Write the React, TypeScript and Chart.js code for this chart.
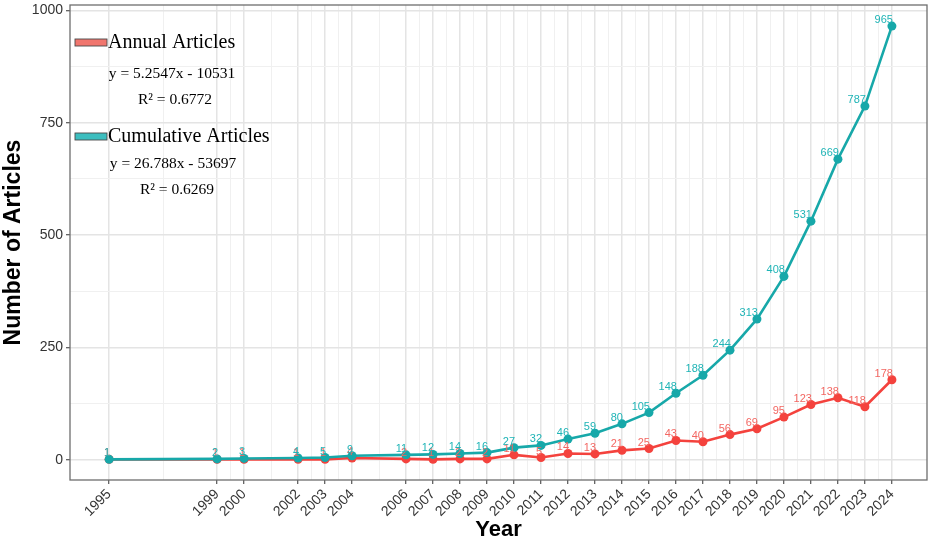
import React, { useEffect, useRef } from 'react';
import { Chart, registerables } from 'chart.js';

Chart.register(...registerables);

const years = [1995, 1999, 2000, 2002, 2003, 2004, 2006, 2007, 2008, 2009, 2010, 2011, 2012, 2013, 2014, 2015, 2016, 2017, 2018, 2019, 2020, 2021, 2022, 2023, 2024];
const annualArticles = [1, 1, 1, 1, 1, 4, 2, 1, 2, 2, 11, 5, 14, 13, 21, 25, 43, 40, 56, 69, 95, 123, 138, 118, 178];
const cumulativeArticles = [1, 2, 3, 4, 5, 9, 11, 12, 14, 16, 27, 32, 46, 59, 80, 105, 148, 188, 244, 313, 408, 531, 669, 787, 965];
const yMajorTicks = [0, 250, 500, 750, 1000];

const annualLabel = 'Annual Articles';
const annualEquation = 'y = 5.2547x - 10531';
const annualR2 = 'R\u00B2 = 0.6772';
const cumulativeLabel = 'Cumulative Articles';
const cumulativeEquation = 'y = 26.788x - 53697';
const cumulativeR2 = 'R\u00B2 = 0.6269';

const xAxisTitle = 'Year';
const yAxisTitle = 'Number of Articles';

const RED_LINE = '#F4423D';
const RED_TEXT = '#F36762';
const TEAL_LINE = '#17A8A9';
const TEAL_TEXT = '#1FB4B6';

function midpoints(arr: number[]): number[] {
  const out: number[] = [];
  for (let i = 0; i < arr.length - 1; i++) out.push((arr[i] + arr[i + 1]) / 2);
  return out;
}

const xMinor = midpoints(years);
const yMinor = midpoints(yMajorTicks);
const xAll = [...years, ...xMinor].sort((a, b) => a - b);
const yAll = [...yMajorTicks, ...yMinor].sort((a, b) => a - b);
const xMajorSet = new Set(years);
const yMajorSet = new Set(yMajorTicks);

const decorPlugin = {
  id: 'decor',
  beforeDraw(chart: any) {
    const ctx = chart.ctx;
    ctx.save();
    ctx.fillStyle = '#ffffff';
    ctx.fillRect(0, 0, chart.width, chart.height);
    ctx.restore();
  },
  afterDatasetsDraw(chart: any) {
    const ctx = chart.ctx;
    ctx.save();
    ctx.font = '11px Arial, "Liberation Sans", sans-serif';
    ctx.textAlign = 'right';
    ctx.textBaseline = 'alphabetic';
    const order = [1, 0];
    order.forEach((di) => {
      const meta = chart.getDatasetMeta(di);
      const ds = chart.data.datasets[di];
      ctx.fillStyle = di === 0 ? TEAL_TEXT : RED_TEXT;
      meta.data.forEach((pt: any, i: number) => {
        ctx.fillText(String(ds.data[i].y), pt.x + 1, pt.y - 3);
      });
    });
    ctx.restore();
  },
  afterDraw(chart: any) {
    const ctx = chart.ctx;
    const a = chart.chartArea;
    ctx.save();
    // panel border
    ctx.strokeStyle = '#6e6e6e';
    ctx.lineWidth = 1.3;
    ctx.strokeRect(a.left, a.top, a.right - a.left, a.bottom - a.top);

    // axis titles
    ctx.fillStyle = '#000000';
    ctx.font = 'bold 22px Arial, "Liberation Sans", sans-serif';
    ctx.textAlign = 'center';
    ctx.textBaseline = 'alphabetic';
    ctx.fillText(xAxisTitle, (a.left + a.right) / 2, 536);

    ctx.save();
    ctx.translate(13.5, (a.top + a.bottom) / 2);
    ctx.rotate(-Math.PI / 2);
    ctx.font = 'bold 23px Arial, "Liberation Sans", sans-serif';
    ctx.textBaseline = 'middle';
    ctx.fillText(yAxisTitle, 0, 0);
    ctx.restore();

    // legend / annotations
    const serif = '"Liberation Serif", "Times New Roman", Times, serif';
    ctx.lineWidth = 0.9;
    ctx.strokeStyle = '#4a4a4a';
    ctx.fillStyle = '#F0766E';
    ctx.fillRect(75, 39, 32, 7);
    ctx.strokeRect(75, 39, 32, 7);
    ctx.fillStyle = '#3CBEBF';
    ctx.fillRect(75, 133, 32, 7);
    ctx.strokeRect(75, 133, 32, 7);

    ctx.fillStyle = '#000000';
    ctx.textAlign = 'left';
    ctx.font = `20px ${serif}`;
    ctx.fillText(annualLabel, 108, 48);
    ctx.fillText(cumulativeLabel, 108, 142);

    ctx.textAlign = 'center';
    ctx.font = `15.5px ${serif}`;
    ctx.fillText(annualEquation, 172, 78);
    ctx.fillText(annualR2, 175, 104);
    ctx.fillText(cumulativeEquation, 173, 168);
    ctx.fillText(cumulativeR2, 177, 194);
    ctx.restore();
  },
};

export default function App() {
  const canvasRef = useRef<HTMLCanvasElement | null>(null);

  useEffect(() => {
    document.body.style.margin = '0';
    const canvas = canvasRef.current;
    if (!canvas) return;

    const chart = new Chart(canvas, {
      type: 'line',
      data: {
        datasets: [
          {
            label: cumulativeLabel,
            data: years.map((yr, i) => ({ x: yr, y: cumulativeArticles[i] })),
            borderColor: TEAL_LINE,
            backgroundColor: TEAL_LINE,
            borderWidth: 2.6,
            pointRadius: 4.5,
            pointBorderWidth: 0,
            pointBackgroundColor: TEAL_LINE,
            tension: 0,
          },
          {
            label: annualLabel,
            data: years.map((yr, i) => ({ x: yr, y: annualArticles[i] })),
            borderColor: RED_LINE,
            backgroundColor: RED_LINE,
            borderWidth: 2.6,
            pointRadius: 4.5,
            pointBorderWidth: 0,
            pointBackgroundColor: RED_LINE,
            tension: 0,
          },
        ],
      },
      options: {
        responsive: false,
        animation: false,
        layout: { padding: { top: 5, right: 8, left: 0, bottom: 0 } },
        plugins: {
          legend: { display: false },
          tooltip: { enabled: false },
        },
        scales: {
          x: {
            type: 'linear',
            min: 1993.55,
            max: 2025.3,
            afterBuildTicks: (scale: any) => {
              scale.ticks = xAll.map((v) => ({ value: v }));
            },
            afterFit: (scale: any) => {
              scale.height = 61;
              scale.paddingLeft = 0;
              scale.paddingRight = 0;
            },
            border: { display: false },
            grid: {
              color: (c: any) => (c.tick && xMajorSet.has(c.tick.value) ? '#e4e4e4' : '#f0f0f0'),
              lineWidth: (c: any) => (c.tick && xMajorSet.has(c.tick.value) ? 1.5 : 1),
              tickColor: '#333333',
              tickWidth: (c: any) => (c.tick && xMajorSet.has(c.tick.value) ? 1 : 0),
              tickLength: 4,
              drawTicks: true,
            },
            ticks: {
              autoSkip: false,
              minRotation: 45,
              maxRotation: 45,
              padding: 2,
              color: '#333333',
              font: { family: 'Arial, "Liberation Sans", sans-serif', size: 14 },
              callback: (v: any) => (xMajorSet.has(Number(v)) ? String(v) : ''),
            },
          },
          y: {
            type: 'linear',
            min: -45,
            max: 1012,
            afterBuildTicks: (scale: any) => {
              scale.ticks = yAll.map((v) => ({ value: v }));
            },
            afterFit: (scale: any) => {
              scale.width = 70;
              scale.paddingTop = 0;
              scale.paddingBottom = 0;
            },
            border: { display: false },
            grid: {
              color: (c: any) => (c.tick && yMajorSet.has(c.tick.value) ? '#e4e4e4' : '#f0f0f0'),
              lineWidth: (c: any) => (c.tick && yMajorSet.has(c.tick.value) ? 1.5 : 1),
              tickColor: '#333333',
              tickWidth: (c: any) => (c.tick && yMajorSet.has(c.tick.value) ? 1 : 0),
              tickLength: 4,
            },
            ticks: {
              autoSkip: false,
              padding: 3,
              color: '#333333',
              font: { family: 'Arial, "Liberation Sans", sans-serif', size: 14 },
              callback: (v: any) => (yMajorSet.has(Number(v)) ? String(v) : ''),
            },
          },
        },
      },
      plugins: [decorPlugin],
    } as any);

    return () => {
      chart.destroy();
    };
  }, []);

  return (
    <div style={{ position: 'absolute', left: 0, top: 0, width: 935, height: 541 }}>
      <canvas ref={canvasRef} width={935} height={541} style={{ width: 935, height: 541 }} />
    </div>
  );
}
